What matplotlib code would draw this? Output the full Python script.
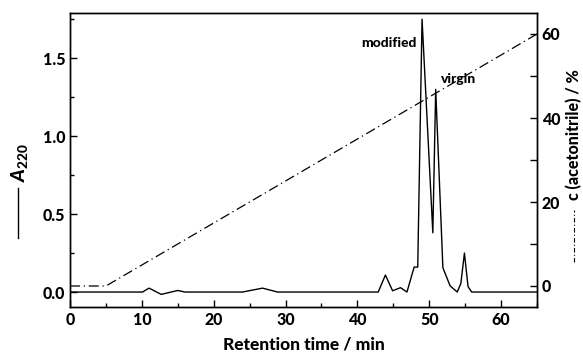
"""HPLC chromatogram: absorbance at 220 nm and acetonitrile gradient."""

import matplotlib
matplotlib.use("Agg")
import matplotlib.pyplot as plt
from matplotlib.lines import Line2D
from matplotlib.ticker import MultipleLocator

# absorbance trace (retention time / min, A220)
time = [0, 10.1, 11.0, 12.7, 15.0, 16.0, 24.0, 26.8, 28.9, 42.9, 43.9, 44.9,
        46.0, 46.9, 47.9, 48.4, 49.0, 50.5, 50.9, 51.9, 52.9, 53.9, 54.4,
        54.9, 55.4, 55.9, 65.0]
a220 = [0, 0, 0.025, -0.015, 0.01, 0, 0, 0.025, 0, 0, 0.109, 0.008,
        0.028, 0, 0.16, 0.16, 1.75, 0.38, 1.30, 0.156, 0.04, 0, 0.055,
        0.25, 0.035, 0, 0]

# acetonitrile gradient (retention time / min, %)
grad_time = [0, 5, 65]
grad_acn = [0, 0, 60]

peak_labels = ["modified", "virgin"]
peak_pos = [(48.3, 1.60), (51.7, 1.365)]

plt.rcParams['font.family'] = ['Lato', 'DejaVu Sans']
plt.rcParams['font.weight'] = 'black'
plt.rcParams['mathtext.fontset'] = 'custom'
plt.rcParams['mathtext.it'] = 'Lato:italic:black'
plt.rcParams['mathtext.bf'] = 'Lato:black'
plt.rcParams['mathtext.rm'] = 'Lato:black'


def main():
    fig = plt.figure(figsize=(5.83, 3.56), dpi=100)
    ax = fig.add_axes([70 / 583, 1 - 307 / 356, 467 / 583, 294 / 356])

    ax.plot(time, a220, color='black', linewidth=1.0)
    ax.set_xlim(0, 65)
    ax.set_ylim(-0.096, 1.79)
    ax.xaxis.set_major_locator(MultipleLocator(10))
    ax.xaxis.set_minor_locator(MultipleLocator(5))
    ax.yaxis.set_major_locator(MultipleLocator(0.5))
    ax.yaxis.set_minor_locator(MultipleLocator(0.25))
    ax.tick_params(which='both', direction='in', labelsize=11.5, width=1)
    ax.tick_params(which='major', length=5)
    ax.tick_params(which='minor', length=3)
    ax.set_xlabel("Retention time / min", fontsize=12.5, fontweight='black',
                  labelpad=6)

    for name, (x, y) in zip(peak_labels, peak_pos):
        ha = 'right' if name == "modified" else 'left'
        ax.text(x, y, name, ha=ha, va='center', fontsize=10,
                fontweight='black')

    ax2 = ax.twinx()
    ax2.plot(grad_time, grad_acn, color='black', linewidth=0.9,
             linestyle=(0, (8, 3, 1, 3)))
    ax2.set_ylim(-5, 65)
    ax2.yaxis.set_major_locator(MultipleLocator(20))
    ax2.yaxis.set_minor_locator(MultipleLocator(10))
    ax2.tick_params(which='both', direction='in', labelsize=11.5, width=1)
    ax2.tick_params(which='major', length=5)
    ax2.tick_params(which='minor', length=5)

    for sp in list(ax.spines.values()) + list(ax2.spines.values()):
        sp.set_linewidth(1.0)

    # left axis label: line sample + A220
    fig.text(20 / 583, 1 - 162 / 356, r"$\mathit{A}_{\mathbf{220}}$",
             rotation=90, ha='center', va='center', fontsize=14)
    fig.add_artist(Line2D([18 / 583, 18 / 583],
                          [1 - 238 / 356, 1 - 188 / 356],
                          color='black', linewidth=1.0))

    # right axis label: line sample + c(acetonitrile)
    fig.text(574 / 583, 1 - 200 / 356, "c (acetonitrile) / %", rotation=90,
             ha='center', va='bottom', fontsize=11.5, fontweight='black')
    fig.add_artist(Line2D([574 / 583, 574 / 583],
                          [1 - 262 / 356, 1 - 210 / 356],
                          color='black', linewidth=0.8,
                          linestyle=(0, (4, 2, 1, 2))))

    fig.savefig("out.png", dpi=100)


if __name__ == "__main__":
    main()
